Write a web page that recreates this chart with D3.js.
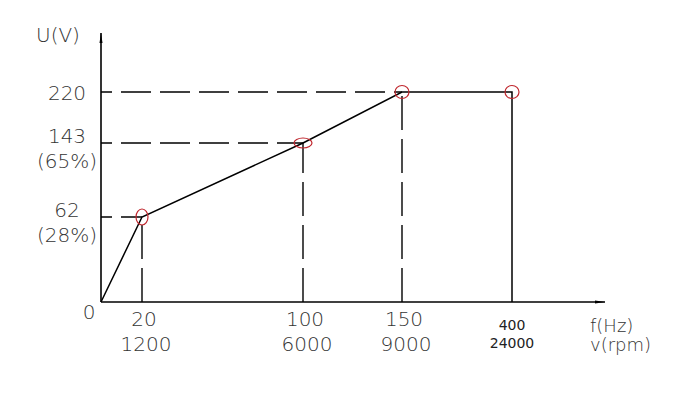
<!DOCTYPE html>
<html>
<head>
<meta charset="utf-8">
<script src="https://cdn.jsdelivr.net/npm/d3@7"></script>
<style>
  body { margin: 0; background: #fff; }
  .lbl { font-family: "DejaVu Sans", sans-serif; font-size: 20px; font-weight: 200; fill: #333; }
  .side { font-family: "DejaVu Sans", sans-serif; font-size: 18px; font-weight: 200; fill: #333; }
  .small { font-family: "DejaVu Sans", sans-serif; font-size: 14px; fill: #222; }
</style>
</head>
<body>
<div id="vis"></div>
<script>
// operating points of the V/f curve
var freq = [0, 20, 100, 150, 400];
var rpm = [0, 1200, 6000, 9000, 24000];
var volt = [0, 62, 143, 220, 220];
var voltPct = ['', '(28%)', '(65%)', '', ''];

var width = 690, height = 410;

var svg = d3.select('#vis').append('svg')
    .attr('width', width)
    .attr('height', height);

// schematic (not to scale) axes, so piecewise scales
var x = d3.scaleLinear().domain(freq).range([101, 142, 303, 402, 512]);
var y = d3.scaleLinear().domain([0, 62, 143, 220]).range([302, 217, 143, 92]);

svg.append('defs').append('marker')
    .attr('id', 'arr')
    .attr('viewBox', '0 0 10 6')
    .attr('refX', 10).attr('refY', 3)
    .attr('markerWidth', 10).attr('markerHeight', 6)
    .attr('markerUnits', 'userSpaceOnUse')
    .attr('orient', 'auto')
    .append('path').attr('d', 'M0,1.5 L10,3 L0,4.5 Z').attr('fill', '#000');

// axes
svg.append('line')
    .attr('x1', x(0)).attr('y1', y(0)).attr('x2', 605).attr('y2', y(0))
    .attr('stroke', '#000').attr('stroke-width', 1.6).attr('marker-end', 'url(#arr)');
svg.append('line')
    .attr('x1', x(0)).attr('y1', y(0)).attr('x2', x(0)).attr('y2', 33)
    .attr('stroke', '#000').attr('stroke-width', 1.6).attr('marker-end', 'url(#arr)');

var pts = freq.map(function(f, i) { return {f: f, v: volt[i], rpm: rpm[i], pct: voltPct[i]}; });

// dashed guide lines for the first three points, drawn out from the axes
var guides = pts.slice(1, 4);
svg.selectAll('.hguide').data(guides).enter().append('line')
    .attr('x1', x(0)).attr('x2', function(d) { return x(d.f); })
    .attr('y1', function(d) { return y(d.v); }).attr('y2', function(d) { return y(d.v); })
    .attr('stroke', '#000').attr('stroke-width', 1.4)
    .attr('stroke-dasharray', '30,9').attr('stroke-dashoffset', 19);
svg.selectAll('.vguide').data(guides).enter().append('line')
    .attr('x1', function(d) { return x(d.f); }).attr('x2', function(d) { return x(d.f); })
    .attr('y1', y(0)).attr('y2', function(d) { return y(d.v); })
    .attr('stroke', '#000').attr('stroke-width', 1.4)
    .attr('stroke-dasharray', '34,9');

// the curve, dropping to zero at 400 Hz
var curve = pts.concat([{f: 400, v: 0}]);
svg.append('path')
    .datum(curve)
    .attr('fill', 'none')
    .attr('stroke', '#000')
    .attr('stroke-width', 1.5)
    .attr('d', d3.line().x(function(d) { return x(d.f); }).y(function(d) { return y(d.v); }));

// red markers
var rx = [6, 6, 9, 7, 7], ry = [8, 8, 5, 6.5, 6.5];
svg.selectAll('.mark').data(pts.slice(1)).enter().append('ellipse')
    .attr('cx', function(d) { return x(d.f); })
    .attr('cy', function(d) { return y(d.v); })
    .attr('rx', function(d, i) { return rx[i + 1]; })
    .attr('ry', function(d, i) { return ry[i + 1]; })
    .attr('fill', 'none').attr('stroke', '#c0282f').attr('stroke-width', 1.2);

// y labels
svg.selectAll('.ylab').data(pts.slice(1, 4)).enter().append('text')
    .attr('class', 'lbl').attr('text-anchor', 'middle')
    .attr('x', 67)
    .attr('y', function(d) { return y(d.v) + (d.pct ? 0 : 8); })
    .text(function(d) { return d.v; });
svg.selectAll('.ypct').data(pts.filter(function(d) { return d.pct; })).enter().append('text')
    .attr('class', 'lbl').attr('text-anchor', 'middle')
    .attr('x', 67)
    .attr('y', function(d) { return y(d.v) + 25; })
    .text(function(d) { return d.pct; });

svg.append('text').attr('class', 'lbl').attr('text-anchor', 'middle')
    .attr('x', 89).attr('y', 319).text('0');

// x labels
svg.selectAll('.xlab').data(pts.slice(1, 4)).enter().append('text')
    .attr('class', 'lbl').attr('text-anchor', 'middle')
    .attr('x', function(d) { return x(d.f) + 2; })
    .attr('y', 326)
    .text(function(d) { return d.f; });
svg.selectAll('.xrpm').data(pts.slice(1, 4)).enter().append('text')
    .attr('class', 'lbl').attr('text-anchor', 'middle')
    .attr('x', function(d) { return x(d.f) + 4; })
    .attr('y', 351)
    .text(function(d) { return d.rpm; });
svg.append('text').attr('class', 'small').attr('text-anchor', 'middle')
    .attr('x', x(400)).attr('y', 330).text(freq[4]);
svg.append('text').attr('class', 'small').attr('text-anchor', 'middle')
    .attr('x', x(400)).attr('y', 348).text(rpm[4]);

// axis titles
svg.append('text').attr('class', 'lbl').attr('x', 36).attr('y', 42).text('U(V)');
svg.append('text').attr('class', 'side').attr('x', 590).attr('y', 332).text('f(Hz)');
svg.append('text').attr('class', 'side').attr('x', 590).attr('y', 351).text('v(rpm)');
</script>
</body>
</html>
